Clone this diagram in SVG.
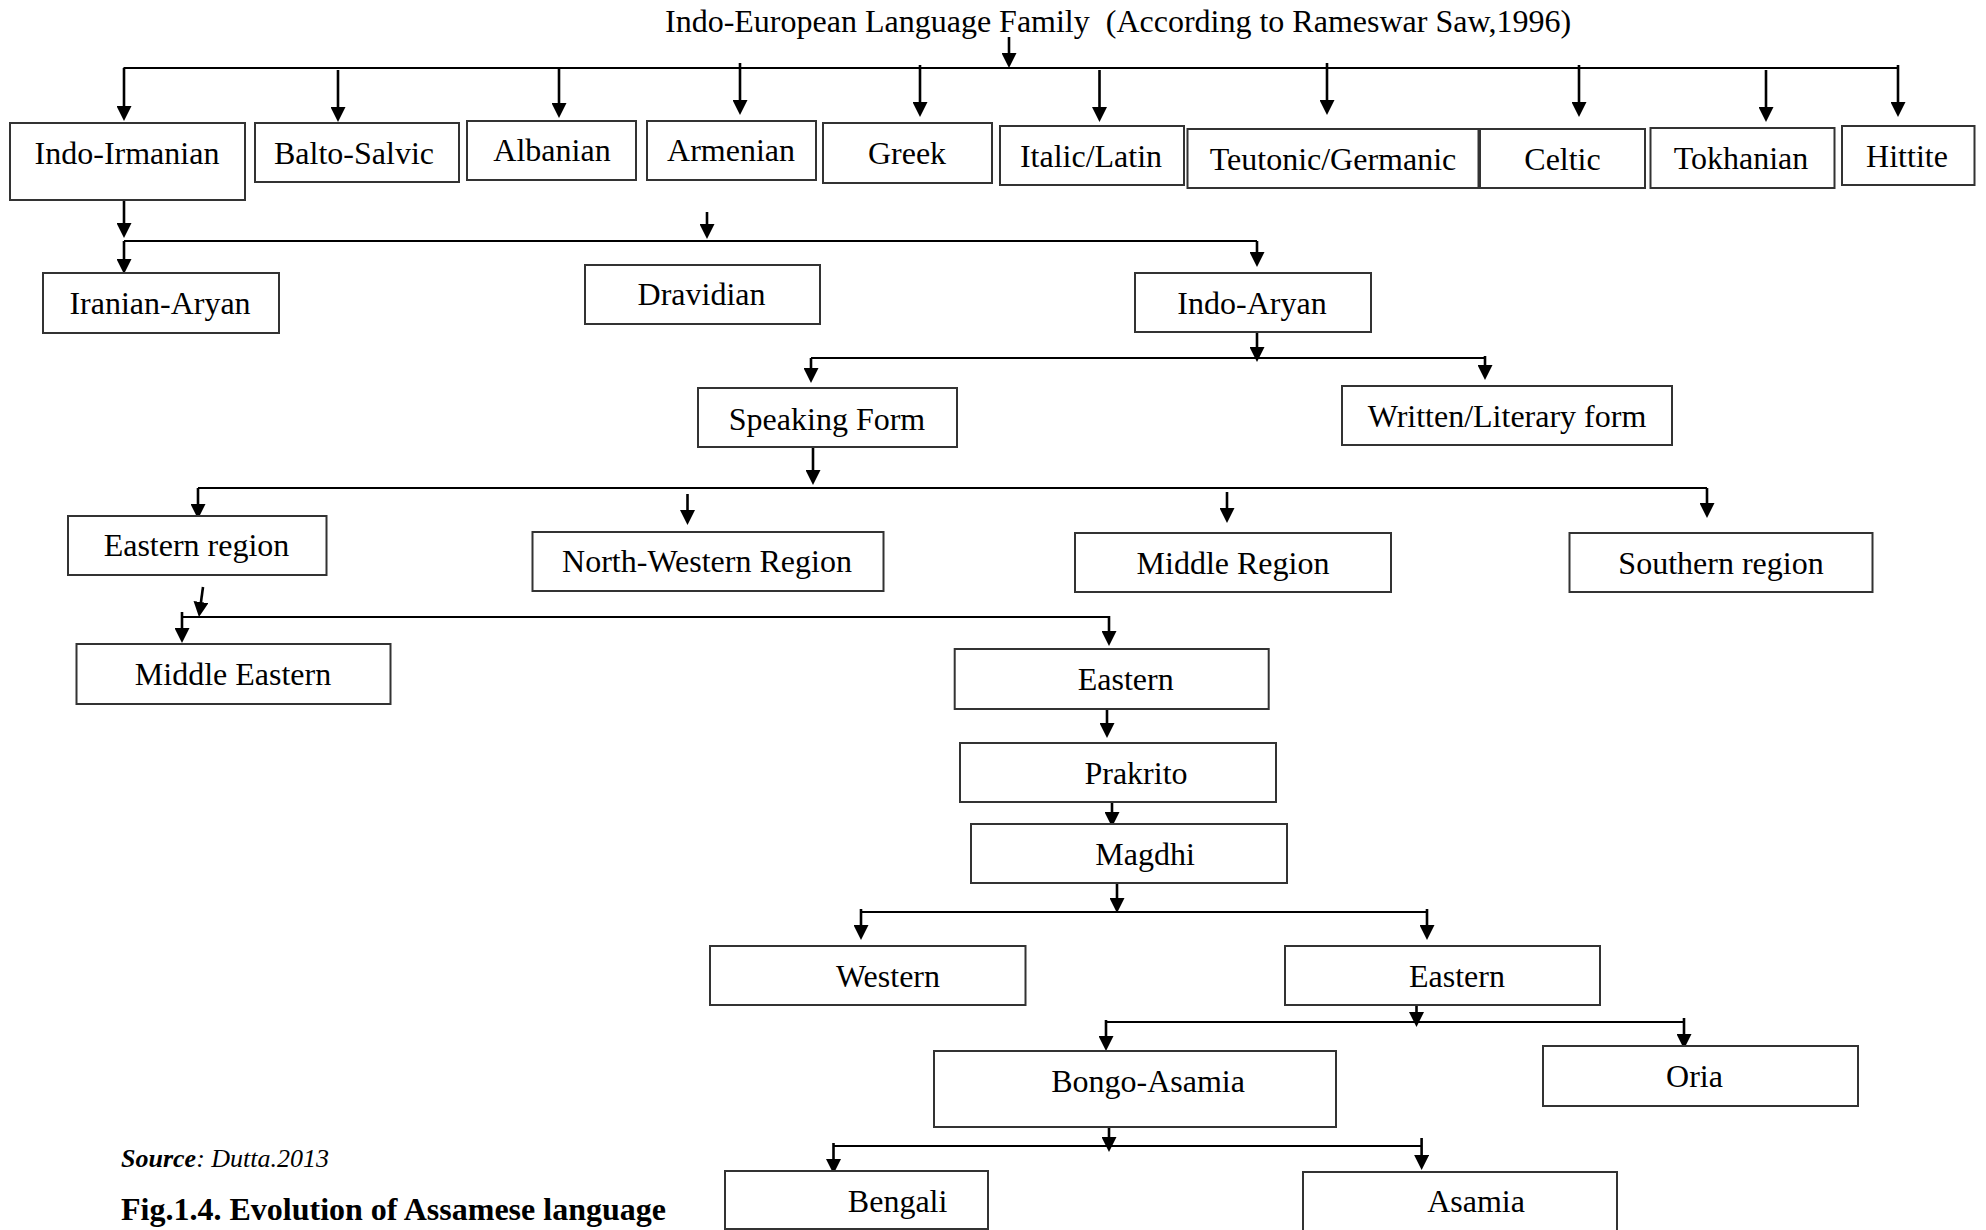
<svg xmlns="http://www.w3.org/2000/svg" width="1986" height="1230" viewBox="0 0 1986 1230">
<style>
  .box rect { fill: #fff; stroke: #333; stroke-width: 2; }
  .box text, .t { font-family: "Liberation Serif", "Times New Roman", serif; font-size: 32px; fill: #000; text-anchor: middle; }
  .bus { fill: none; stroke: #000; stroke-width: 1.8; }
  .arr { fill: none; stroke: #000; stroke-width: 2.6; marker-end: url(#ah); }
</style>
<defs>
  <marker id="ah" markerUnits="userSpaceOnUse" viewBox="0 0 15 15" markerWidth="15" markerHeight="15" refX="5" refY="7.5" orient="auto">
    <path d="M0,0 L15,7.5 L0,15 Z" fill="#000"/>
  </marker>
</defs>
<rect width="1986" height="1230" fill="#fff"/>

<text class="t" x="665" y="32" style="text-anchor:start" xml:space="preserve">Indo-European Language Family  (According to Rameswar Saw,1996)</text>

<g id="connectors">
  <path class="arr" d="M1009,37 V58"/>
  <path class="bus" d="M123.5,68 H1898"/>
  <path class="arr" d="M124,68 V111"/>
  <path class="arr" d="M338,70 V112"/>
  <path class="arr" d="M559,67 V108"/>
  <path class="arr" d="M740,63 V105"/>
  <path class="arr" d="M920,65 V107"/>
  <path class="arr" d="M1099.5,70 V112"/>
  <path class="arr" d="M1327,63 V105"/>
  <path class="arr" d="M1579,65 V107"/>
  <path class="arr" d="M1766,70 V112"/>
  <path class="arr" d="M1898,65 V107"/>
  <path class="arr" d="M124,188 V228"/>
  <path class="bus" d="M124,241 H1257"/>
  <path class="arr" d="M124,241 V264"/>
  <path class="arr" d="M707,212 V229"/>
  <path class="arr" d="M1257,241 V257"/>
  <path class="arr" d="M1257,332 V352"/>
  <path class="bus" d="M811,358 H1485"/>
  <path class="arr" d="M811,358 V373"/>
  <path class="arr" d="M1485,356 V370"/>
  <path class="arr" d="M813,443 V475"/>
  <path class="bus" d="M198,488 H1707"/>
  <path class="arr" d="M198,488 V509"/>
  <path class="arr" d="M687.5,494 V515"/>
  <path class="arr" d="M1227,492 V513"/>
  <path class="arr" d="M1707,488 V508"/>
  <path class="arr" d="M203,587 L200.3,607"/>
  <path class="bus" d="M182,617 H1109"/>
  <path class="arr" d="M182,612 V633"/>
  <path class="arr" d="M1109,616 V636"/>
  <path class="arr" d="M1107,709 V728"/>
  <path class="arr" d="M1112,797 V817"/>
  <path class="arr" d="M1117,883 V903"/>
  <path class="bus" d="M861,912 H1427"/>
  <path class="arr" d="M861,909 V930"/>
  <path class="arr" d="M1427,909 V930"/>
  <path class="arr" d="M1416.5,996 V1017"/>
  <path class="bus" d="M1106,1022 H1684"/>
  <path class="arr" d="M1106,1020 V1041"/>
  <path class="arr" d="M1684,1018 V1039"/>
  <path class="arr" d="M1109,1121 V1142"/>
  <path class="bus" d="M833.5,1146 H1421.6"/>
  <path class="arr" d="M833.5,1143 V1164"/>
  <path class="arr" d="M1421.6,1138 V1160"/>
</g>

<g id="n-indo-irmanian" class="box"><rect x="10" y="123" width="235" height="77"/><text x="127" y="163.5">Indo-Irmanian</text></g>
<g id="n-balto-salvic" class="box"><rect x="255" y="123" width="204" height="59"/><text x="354" y="163.5">Balto-Salvic</text></g>
<g id="n-albanian" class="box"><rect x="467" y="121" width="169" height="59"/><text x="552" y="160.5">Albanian</text></g>
<g id="n-armenian" class="box"><rect x="647" y="121" width="169" height="59"/><text x="731" y="160.5">Armenian</text></g>
<g id="n-greek" class="box"><rect x="823" y="123" width="169" height="60"/><text x="907" y="163.5">Greek</text></g>
<g id="n-italic" class="box"><rect x="1000" y="126" width="184" height="59"/><text x="1091" y="166.5">Italic/Latin</text></g>
<g id="n-teutonic" class="box"><rect x="1187.5" y="129" width="291" height="59"/><text x="1333" y="169.5">Teutonic/Germanic</text></g>
<g id="n-celtic" class="box"><rect x="1480" y="129" width="165" height="59"/><text x="1562.5" y="169.5">Celtic</text></g>
<g id="n-tokhanian" class="box"><rect x="1650.5" y="128" width="184" height="60"/><text x="1741" y="168.5">Tokhanian</text></g>
<g id="n-hittite" class="box"><rect x="1842" y="126" width="132.5" height="59"/><text x="1907" y="166.5">Hittite</text></g>

<g id="n-iranian-aryan" class="box"><rect x="43" y="273" width="236" height="60"/><text x="160" y="313.5">Iranian-Aryan</text></g>
<g id="n-dravidian" class="box"><rect x="585" y="265" width="235" height="59"/><text x="701.5" y="305">Dravidian</text></g>
<g id="n-indo-aryan" class="box"><rect x="1135" y="273" width="236" height="59"/><text x="1252" y="313.5">Indo-Aryan</text></g>

<g id="n-speaking" class="box"><rect x="698" y="388" width="259" height="59"/><text x="827" y="429.5">Speaking Form</text></g>
<g id="n-written" class="box"><rect x="1342" y="386" width="330" height="59"/><text x="1507" y="426.5">Written/Literary form</text></g>

<g id="n-eastern-region" class="box"><rect x="68" y="516" width="258.5" height="59"/><text x="196.5" y="555.5">Eastern region</text></g>
<g id="n-north-western" class="box"><rect x="532.5" y="532" width="351" height="59"/><text x="707" y="571.5">North-Western Region</text></g>
<g id="n-middle-region" class="box"><rect x="1075" y="533" width="316" height="59"/><text x="1233" y="573.5">Middle Region</text></g>
<g id="n-southern" class="box"><rect x="1569.5" y="533" width="303" height="59"/><text x="1721" y="573.5">Southern region</text></g>

<g id="n-middle-eastern" class="box"><rect x="76.5" y="644" width="314" height="60"/><text x="233" y="684.5">Middle Eastern</text></g>
<g id="n-eastern" class="box"><rect x="954.7" y="649" width="314" height="60"/><text x="1125.7" y="689.5">Eastern</text></g>
<g id="n-prakrito" class="box"><rect x="960" y="743" width="316" height="59"/><text x="1136" y="783.5">Prakrito</text></g>
<g id="n-magdhi" class="box"><rect x="971" y="824" width="316" height="59"/><text x="1145" y="864.5">Magdhi</text></g>
<g id="n-western" class="box"><rect x="710" y="946" width="315.5" height="59"/><text x="888" y="986.5">Western</text></g>
<g id="n-eastern2" class="box"><rect x="1285" y="946" width="315" height="59"/><text x="1457" y="986.5">Eastern</text></g>
<g id="n-bongo-asamia" class="box"><rect x="934" y="1051" width="402" height="76"/><text x="1148" y="1091.5">Bongo-Asamia</text></g>
<g id="n-oria" class="box"><rect x="1543" y="1046" width="315" height="60"/><text x="1694.5" y="1086.5">Oria</text></g>
<g id="n-bengali" class="box"><rect x="725" y="1171" width="263" height="58"/><text x="897.6" y="1211.5">Bengali</text></g>
<g id="n-asamia" class="box"><rect x="1303" y="1172" width="314" height="62"/><text x="1476" y="1211.5">Asamia</text></g>

<text x="121" y="1167" style="font-family:'Liberation Serif','Times New Roman',serif;font-size:26px;font-style:italic"><tspan font-weight="bold">Source</tspan>: Dutta.2013</text>
<text x="121" y="1220" style="font-family:'Liberation Serif','Times New Roman',serif;font-size:32px;font-weight:bold">Fig.1.4. Evolution of Assamese language</text>
</svg>
